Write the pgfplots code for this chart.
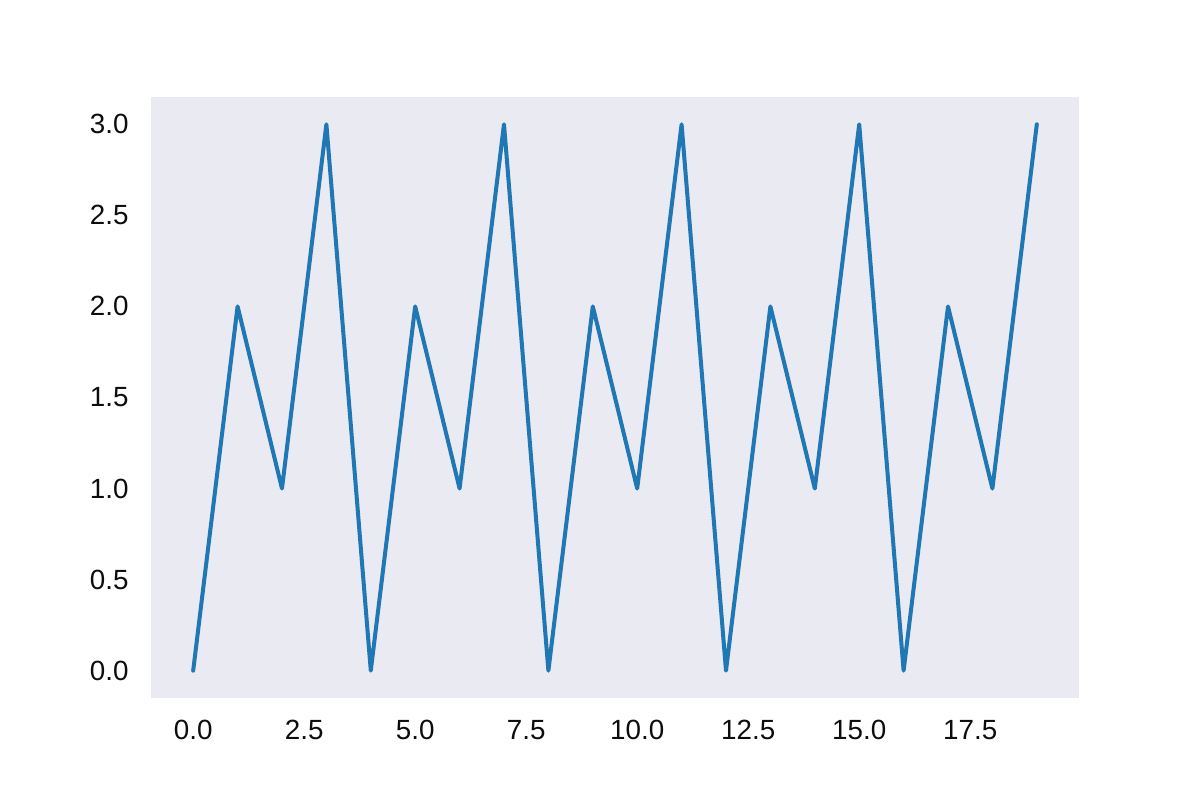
\documentclass[border=0pt]{standalone}
\usepackage{pgfplots}
\pgfplotsset{compat=1.18}
\usepackage{fontspec}
\setmainfont{Liberation Sans}
\definecolor{bgc}{HTML}{EAEAF2}
\definecolor{lc}{HTML}{1F77B4}
\begin{document}
\begin{tikzpicture}
\path[use as bounding box] (-54.36pt,-36.72pt) rectangle (377.64pt,251.28pt);
\begin{axis}[
  at={(0pt,0pt)}, anchor=south west,
  scale only axis, width=334.08pt, height=216.36pt,
  xmin=-0.95, xmax=19.95, ymin=-0.15, ymax=3.15,
  axis background/.style={fill=bgc},
  axis line style={draw=none},
  major tick length=0pt,
  xtick={0,2.5,5,7.5,10,12.5,15,17.5},
  ytick={0,0.5,1,1.5,2,2.5,3},
  xticklabels={0.0,2.5,5.0,7.5,10.0,12.5,15.0,17.5},
  yticklabels={0.0,0.5,1.0,1.5,2.0,2.5,3.0},
  tick label style={font=\fontsize{10}{12}\selectfont, text=black!95},
  xticklabel style={inner sep=0pt, anchor=north, yshift=-7.9pt},
  yticklabel style={inner sep=0pt, anchor=east, xshift=-7.9pt},
  clip=false,
]
\addplot[color=lc, line width=1.44pt, line cap=round, line join=round] coordinates {
(0,0) (1,2) (2,1) (3,3) (4,0) (5,2) (6,1) (7,3) (8,0) (9,2)
(10,1) (11,3) (12,0) (13,2) (14,1) (15,3) (16,0) (17,2) (18,1) (19,3)
};
\end{axis}
\end{tikzpicture}
\end{document}
